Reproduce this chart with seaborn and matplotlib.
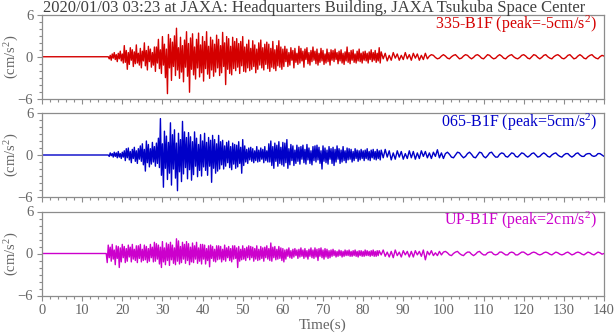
import numpy as np
import pandas as pd
import matplotlib
matplotlib.use("Agg")
import matplotlib.pyplot as plt
from matplotlib.ticker import MultipleLocator
import seaborn as sns

# Acceleration records (cm/s^2).
# Strong-motion part: one sample every 0.25 s from onset; coda: one every 0.5 s.
title = "2020/01/03 03:23 at JAXA: Headquarters Building, JAXA Tsukuba Space Center"
channels = ["335-B1F", "065-B1F", "UP-B1F"]
colors = ["#d40000", "#0000c8", "#cc00cc"]
onsets = [16.5, 16.5, 16.0]
early_step = 0.25
late_step = 0.5

acc_335_early = [
    0.0, -0.3, 0.2, -0.5, 0.4, -0.2, 0.6, -0.4, 0.3, -0.7, 0.5, -0.3, 0.8, -0.6, 0.4, -0.9,
    1.6, -0.8, 0.9, -1.8, 0.6, -1.1, 1.3, -0.5, 1.0, -1.4, 0.7, -1.0, 1.7, -0.9, 0.5, -1.2,
    1.2, -1.6, 0.8, -0.6, 2.0, -1.3, 0.9, -1.9, 1.5, -0.7, 1.1, -1.5, 0.6, -1.2, 1.4, -2.1,
    1.4, -0.9, 2.5, -1.7, 1.0, -2.4, 2.9, -1.2, 1.8, -3.0, 1.1, -5.3, 3.2, -1.6, 2.6, -3.4,
    2.1, -1.4, 3.0, -2.7, 4.1, -1.9, 1.3, -3.1, 2.8, -2.2, 1.6, -3.6, 2.4, -1.5, 3.6, -2.8,
    1.9, -5.1, 2.7, -1.8, 3.3, -2.6, 1.4, -3.2, 2.5, -1.6, 3.4, -2.9, 1.7, -2.3, 2.9, -3.5,
    2.2, -1.7, 3.6, -2.5, 1.5, -3.1, 2.8, -1.9, 2.4, -2.8, 1.8, -2.2, 3.1, -1.6, 2.5, -2.7,
    1.6, -2.3, 3.5, -1.4, 2.0, -4.0, 2.9, -1.8, 2.6, -2.4, 1.5, -2.6, 2.8, -1.7, 2.2, -2.0,
    2.6, -1.5, 1.9, -2.4, 2.2, -1.3, 2.9, -2.1, 1.4, -2.2, 1.8, -1.6, 2.4, -2.0, 1.2, -1.8,
    2.3, -1.4, 1.7, -2.3, 1.1, -1.8, 2.0, -1.2, 2.4, -1.6, 1.3, -1.9, 1.8, -1.1, 2.1, -1.7,
    1.8, -2.1, 1.2, -1.5, 2.2, -1.7, 1.0, -2.0, 1.6, -1.3, 2.3, -1.5, 1.4, -1.8, 1.1, -1.4,
    1.5, -0.7, 1.1, -1.4, 0.6, -1.2, 1.3, -0.5, 0.9, -1.6, 1.2, -0.8, 0.5, -1.1, 1.5, -0.9,
    1.2, -0.6, 0.8, -1.5, 1.1, -0.4, 1.3, -1.0, 0.6, -1.2, 0.9, -0.7, 1.4, -0.5, 0.8, -1.0,
    1.1, -1.2, 0.5, -0.8, 1.2, -0.6, 0.9, -1.1, 0.4, -0.9, 1.1, -0.7, 0.6, -1.2, 1.0, -0.5,
    0.9, -0.7, 1.1, -0.4, 0.6, -1.0, 0.8, -0.6, 1.0, -0.9, 0.5, -1.1, 0.7, -0.6, 1.4, -0.8,
    0.6, -1.0, 0.9, -0.5, 1.0, -0.8, 0.4, -0.9, 0.8, -0.6, 1.1, -0.7, 0.5, -0.9, 0.7, -0.5,
    0.8, -0.6, 0.5, -0.9, 0.7, -0.4, 1.0, -0.7, 0.6, -0.5, 0.9, -0.8, 0.5, -0.6, 1.3, -0.9,
]
acc_335_late = [
    0.7, -0.3, 0.5, -0.6, 0.2, -0.5, 0.6, -0.2,
    0.4, -0.5, 0.2, -0.4, 0.6, -0.3, 0.3, -0.5,
    0.5, -0.2, 0.4, -0.5, 0.2, -0.4, 0.5, -0.3,
    0.1, 0.3, 0.2, -0.1, -0.3, -0.2, 0.1, 0.3,
    0.1, -0.2, -0.3, 0.0, 0.2, 0.3, 0.0, -0.3,
    -0.2, 0.1, 0.3, 0.2, -0.1, -0.3, -0.1, 0.2,
    0.3, 0.1, -0.2, -0.3, 0.0, 0.3, 0.2, -0.1,
    -0.3, -0.2, 0.1, 0.3, 0.1, -0.2, -0.3, 0.0,
    0.2, 0.3, 0.0, -0.2, -0.3, -0.1, 0.2, 0.3,
    0.1, -0.2, -0.3, 0.0, 0.3, 0.2, -0.1, -0.3,
    -0.1, 0.2, 0.3, 0.0, -0.2, -0.3, 0.0, 0.2,
    0.3, 0.1, -0.2, -0.3, -0.1, 0.2, 0.3, 0.0,
    -0.3, -0.2, 0.1, 0.3, 0.1, -0.2, -0.3, 0.0,
    0.2, 0.3, 0.0, -0.2, -0.3, 0.0, 0.2, 0.1,
]

acc_065_early = [
    0.0, -0.2, 0.3, -0.1, 0.2, -0.3, 0.4, -0.2, 0.3, -0.4, 0.5, -0.3, 0.2, -0.5, 0.4, -0.3,
    0.6, -0.8, 0.9, -0.4, 1.0, -0.7, 0.5, -1.1, 0.8, -0.5, 1.1, -0.9, 0.6, -1.2, 0.9, -0.6,
    1.3, -0.9, 1.6, -1.4, 0.8, -2.3, 2.0, -1.1, 1.5, -1.7, 0.9, -1.3, 1.8, -1.0, 1.2, -1.6,
    1.7, -1.2, 2.4, -1.8, 5.2, -2.9, 1.6, -4.6, 3.4, -1.9, 2.7, -3.5, 1.8, -2.6, 4.6, -4.3,
    2.9, -2.0, 3.6, -3.3, 1.7, -5.1, 3.1, -2.4, 2.2, -3.8, 4.8, -2.7, 3.3, -1.8, 2.5, -3.4,
    3.2, -2.1, 2.6, -3.6, 1.9, -2.8, 3.3, -1.6, 2.4, -3.1, 1.5, -2.2, 2.9, -3.0, 2.0, -1.7,
    3.1, -2.2, 1.8, -2.9, 2.5, -1.6, 2.1, -3.9, 2.8, -1.9, 2.2, -2.6, 1.6, -2.3, 2.8, -2.0,
    1.9, -1.4, 2.1, -2.0, 1.3, -1.6, 1.8, -1.1, 2.0, -1.8, 1.2, -2.1, 1.7, -1.3, 1.5, -1.9,
    1.4, -1.7, 1.9, -1.2, 1.1, -2.6, 2.2, -1.5, 1.3, -1.0, 0.8, -1.2, 1.0, -0.7, 1.1, -0.9,
    0.9, -1.1, 0.6, -0.8, 1.2, -1.0, 0.7, -0.9, 1.0, -0.6, 0.8, -1.1, 1.2, -0.8, 0.6, -1.0,
    1.6, -1.0, 2.0, -1.5, 1.2, -1.9, 1.7, -0.9, 1.4, -1.6, 1.9, -1.2, 1.1, -1.4, 1.8, -1.6,
    1.7, -1.1, 2.2, -1.9, 0.9, -1.4, 1.5, -0.8, 1.3, -1.5, 0.7, -1.2, 1.4, -0.9, 1.1, -1.3,
    1.2, -0.6, 1.4, -1.1, 0.8, -1.3, 1.5, -0.7, 1.0, -1.2, 0.6, -1.4, 1.2, -0.8, 1.3, -1.0,
    1.4, -0.7, 1.1, -1.2, 0.6, -2.0, 1.3, -0.9, 1.0, -1.1, 0.7, -1.3, 1.2, -0.6, 0.9, -1.2,
    1.1, -1.5, 0.8, -1.0, 1.3, -0.6, 0.9, -1.2, 0.7, -1.0, 1.2, -0.8, 0.6, -1.1, 1.0, -0.7,
    0.9, -0.6, 0.8, -1.0, 0.5, -0.8, 0.9, -0.5, 0.7, -0.9, 0.6, -0.7, 0.8, -0.5, 0.6, -0.8,
    0.7, -0.5, 0.9, -0.7, 0.5, -0.8, 0.7, -0.4, 0.8, -0.6, 0.5, -0.7, 0.8, -0.5, 0.6, -0.7,
]
acc_065_late = [
    0.7, -0.4, 0.8, -0.3, 0.6, -0.7, 0.3, -0.6,
    0.6, -0.3, 0.5, -0.6, 0.2, -0.5, 0.6, -0.4,
    0.5, -0.6, 0.3, -0.5, 0.6, -0.2, 0.5, -0.4,
    0.3, -0.5, 0.4, -0.2, 0.75, -0.4, 0.3, -0.5,
    0.2, 0.4, 0.1, -0.3, -0.4, 0.0, 0.4, 0.3,
    -0.1, -0.4, -0.2, 0.2, 0.4, 0.1, -0.3, -0.4,
    0.0, 0.4, 0.3, -0.2, -0.4, -0.1, 0.3, 0.4,
    0.0, -0.3, -0.3, 0.1, 0.3, 0.2, -0.2, -0.3,
    0.0, 0.3, 0.2, -0.2, -0.3, 0.0, 0.3, 0.2,
    -0.1, -0.3, -0.1, 0.2, 0.3, 0.0, -0.3, -0.2,
    0.1, 0.3, 0.1, -0.2, -0.3, 0.0, 0.2, 0.3,
    0.0, -0.2, -0.3, 0.0, 0.2, 0.2, -0.1, -0.3,
    -0.1, 0.2, 0.3, 0.0, -0.2, -0.2, 0.1, 0.2,
    0.2, -0.1, -0.2, -0.1, 0.2, 0.2, 0.0, -0.2,
]

acc_up_early = [
    0.0, -1.3, 1.2, -0.6, 0.9, -1.1, 1.3, -0.8, 0.5, -1.6, 1.1, -0.7, 1.0, -2.0, 0.8, -1.2,
    1.3, -0.6, 1.0, -1.3, 0.7, -1.1, 1.2, -0.5, 0.9, -1.2, 1.3, -0.8, 0.6, -1.0, 1.1, -1.3,
    1.1, -0.7, 1.3, -1.2, 0.6, -1.0, 1.2, -0.9, 1.0, -1.3, 0.7, -1.1, 1.3, -0.6, 0.9, -1.2,
    1.6, -1.1, 1.4, -0.8, 1.2, -1.5, 0.9, -2.0, 1.7, -1.2, 0.8, -1.6, 1.5, -1.0, 1.3, -1.7,
    1.6, -0.9, 1.2, -1.4, 0.8, -1.6, 2.1, -1.1, 1.8, -1.5, 1.0, -1.3, 1.6, -0.8, 1.3, -1.4,
    1.7, -1.0, 1.4, -1.6, 0.9, -1.2, 1.5, -1.3, 1.1, -0.8, 1.6, -1.4, 0.8, -1.1, 1.3, -1.5,
    1.3, -0.8, 1.2, -1.5, 0.7, -1.0, 1.1, -1.9, 1.2, -0.7, 1.0, -1.1, 0.6, -1.2, 1.1, -0.9,
    1.1, -0.8, 1.0, -1.2, 0.6, -0.9, 1.2, -1.1, 0.8, -0.6, 1.0, -1.0, 0.7, -1.2, 1.1, -0.8,
    1.1, -0.7, 0.8, -2.0, 1.0, -1.1, 0.6, -0.9, 1.1, -0.8, 0.7, -1.0, 0.9, -0.6, 1.1, -0.9,
    1.0, -0.6, 0.9, -1.1, 0.7, -0.8, 1.1, -1.0, 0.6, -0.9, 1.0, -0.7, 0.8, -1.1, 0.9, -0.6,
    1.1, -0.8, 0.7, -1.0, 1.5, -1.1, 0.9, -0.6, 1.0, -0.9, 0.6, -0.8, 1.0, -0.7, 0.8, -1.0,
    0.7, -1.2, 0.5, -0.8, 0.6, -0.4, 0.8, -0.6, 0.4, -0.7, 0.6, -0.5, 0.7, -0.3, 0.5, -0.7,
    0.6, -0.5, 0.8, -0.4, 0.5, -0.7, 0.7, -0.5, 0.4, -0.8, 0.6, -0.4, 0.8, -0.6, 0.5, -0.7,
    0.8, -0.5, 0.6, -1.0, 0.7, -0.4, 0.8, -0.6, 0.5, -0.8, 0.7, -0.5, 0.6, -0.7, 0.4, -0.6,
    0.5, -0.4, 0.6, -0.3, 0.4, -0.5, 0.3, -0.4, 0.5, -0.3, 0.4, -0.5, 0.3, -0.4, 0.5, -0.3,
    0.4, -0.3, 0.5, -0.4, 0.3, -0.4, 0.4, -0.3, 0.5, -0.4, 0.3, -0.5, 0.4, -0.3, 0.4, -0.4,
    0.3, -0.4, 0.5, -0.3, 0.4, -0.3, 0.3, -0.4, 0.4, -0.3, 0.5, -0.4, 0.3, -0.4, 0.4, -0.3,
]
acc_up_late = [
    0.4, -0.2, 0.5, -0.4, 0.2, -0.5, 0.3, -0.6,
    0.5, -0.3, 0.2, -0.5, 0.4, -0.2, 0.3, -0.5,
    0.3, -0.5, 0.4, -0.2, 0.3, -0.4, 0.5, -0.9,
    0.3, -0.2, 0.4, -0.3, 0.1, -0.3, 0.3, -0.2,
    0.2, 0.3, 0.1, -0.2, -0.3, 0.0, 0.2, 0.3,
    0.0, -0.2, -0.3, 0.0, 0.2, 0.2, -0.1, -0.3,
    -0.1, 0.2, 0.3, 0.0, -0.2, -0.2, 0.1, 0.2,
    0.2, -0.1, -0.2, -0.1, 0.2, 0.2, 0.0, -0.2,
    -0.2, 0.1, 0.2, 0.1, -0.2, -0.2, 0.0, 0.2,
    0.2, 0.0, -0.2, -0.1, 0.1, 0.2, 0.1, -0.1,
    -0.2, -0.1, 0.1, 0.2, 0.1, -0.1, -0.2, 0.0,
    0.2, 0.1, -0.1, -0.2, -0.1, 0.1, 0.2, 0.0,
    -0.2, -0.1, 0.1, 0.2, 0.1, -0.1, -0.2, 0.0,
    0.2, 0.1, -0.1, -0.2, 0.0, 0.2, 0.1, -0.1, 0.0,
]

records = [
    (acc_335_early, acc_335_late),
    (acc_065_early, acc_065_late),
    (acc_up_early, acc_up_late),
]

x_ticks = list(range(0, 141, 10))
y_ticks = [-6, 0, 6]

sns.set_theme(style="white")
plt.rcParams["font.family"] = ["Liberation Serif", "DejaVu Serif"]
plt.rcParams["mathtext.fontset"] = "custom"
plt.rcParams["mathtext.rm"] = "Liberation Serif"
plt.rcParams["mathtext.it"] = "Liberation Serif"

frame_gray = "#8c8c8c"
text_gray = "#666666"

fig = plt.figure(figsize=(6.16, 3.34), dpi=100)
W, H = 616, 334
left, right = 42, 604
panels = [(15, 98.5), (113, 197), (211.5, 295.5)]


def trace_frame(early, late, onset):
    early = np.asarray(early, dtype=float)
    late = np.asarray(late, dtype=float)
    t_early = onset + early_step * np.arange(len(early))
    t_late = onset + early_step * len(early) + late_step * np.arange(len(late))
    return pd.DataFrame({
        "Time(s)": np.concatenate([[0.0], t_early, t_late]),
        "acc": np.concatenate([[0.0], early, late]),
    })


for i, ((early, late), name, col, t0) in enumerate(zip(records, channels, colors, onsets)):
    top, bot = panels[i]
    ax = fig.add_axes([left / W, 1 - bot / H, (right - left) / W, (bot - top) / H])
    df = trace_frame(early, late, t0)
    sns.lineplot(data=df, x="Time(s)", y="acc", ax=ax, color=col,
                 lw=1.0, estimator=None, sort=False)
    vals = df["acc"].to_numpy()
    peak = vals[np.argmax(np.abs(vals))]
    ax.text(0.988, 0.89, f"{name} (peak={peak:.0f}cm/s$^{{2}}$)",
            transform=ax.transAxes, ha="right", va="center",
            color=col, fontsize=11.5)
    ax.set_xlim(0, 140)
    ax.set_ylim(-6, 6)
    ax.set_xticks(x_ticks)
    ax.set_yticks(y_ticks)
    ax.xaxis.set_minor_locator(MultipleLocator(2))
    ax.yaxis.set_minor_locator(MultipleLocator(1))
    ax.tick_params(axis="both", which="major", direction="out", length=3.3,
                   width=0.8, color=frame_gray, labelcolor=text_gray,
                   labelsize=10.5, bottom=True, left=True, pad=3)
    ax.tick_params(axis="both", which="minor", direction="out", length=2.2,
                   width=0.8, color=frame_gray, bottom=True, left=True)
    for s in ax.spines.values():
        s.set_color(frame_gray)
        s.set_linewidth(0.9)
    ax.set_ylabel("(cm/s$^{2}$)", color=text_gray, fontsize=10.5, va="center")
    ax.yaxis.set_label_coords(-0.054, 0.5)
    if i < 2:
        ax.set_xlabel("")
        ax.tick_params(axis="x", labelbottom=False)
    else:
        ax.set_xlabel("Time(s)", color=text_gray, fontsize=11, labelpad=1)

fig.text(left / W + 0.002, 1 - 7.5 / H, title, ha="left", va="center",
         color="#404040", fontsize=12)

fig.savefig("out.png", dpi=100)
